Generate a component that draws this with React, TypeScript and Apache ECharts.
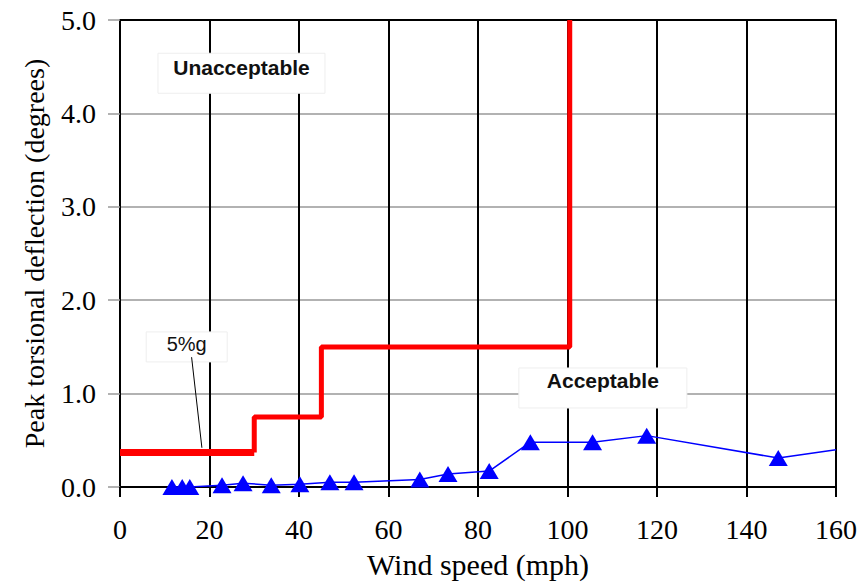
import React, { useEffect, useRef } from "react";
import * as echarts from "echarts";

// 5%g limit: first (thicker) segment, then the stepped remainder
const redBaseX = [0, 30];
const redBaseY = [0.37, 0.37];
const redStepX = [30, 30, 45, 45, 100.5, 100.5];
const redStepY = [0.37, 0.75, 0.75, 1.5, 1.5, 5.0];
const blueX = [11.6, 13.9, 15.6, 22.8, 27.5, 33.8, 40.2, 46.9, 52.3, 67.0, 73.3, 82.5, 91.7, 105.6, 117.7, 147.1, 160];
const blueY = [0, 0, 0, 0.02, 0.04, 0.02, 0.03, 0.05, 0.05, 0.08, 0.14, 0.17, 0.48, 0.48, 0.55, 0.31, 0.4];

const annotations = [
  { text: "Unacceptable", x: 27.15, y: 4.43, w: 167, h: 40, bold: true, size: 21, dy: -6 },
  { text: "Acceptable", x: 107.9, y: 1.06, w: 168, h: 40, bold: true, size: 21, dy: -7 },
  { text: "5%g", x: 14.9, y: 1.5, w: 81, h: 30, bold: false, size: 20, dy: -3 },
];
const leader = [[16.0, 1.39], [18.3, 0.42]];

const serif = "Liberation Serif";
const sans = "Liberation Sans";

const labelRich = { t: { fontFamily: serif, fontSize: 28, color: "#000" } };

export default function App() {
  const ref = useRef<HTMLDivElement>(null);
  useEffect(() => {
    document.body.style.margin = "0";
    const chart = echarts.init(ref.current!, null, { renderer: "svg" });
    chart.setOption({
      animation: false,
      textStyle: { fontFamily: serif, color: "#000" },
      grid: { left: 120, right: 30, top: 20, bottom: 97 },
      xAxis: [
        {
          type: "value",
          min: 0,
          max: 160,
          interval: 20,
          name: "Wind speed (mph)",
          nameLocation: "middle",
          nameGap: 62,
          nameTextStyle: { fontFamily: serif, fontSize: 30, color: "#000" },
          axisLine: { show: true, lineStyle: { color: "#000", width: 2 } },
          axisTick: { show: true, length: 10, lineStyle: { color: "#000", width: 2 } },
          axisLabel: {
            fontFamily: serif,
            fontSize: 28,
            color: "#000",
            margin: 28,
            formatter: (v: number) => `{t|${v}}`,
            rich: labelRich,
          },
          splitLine: { show: true, lineStyle: { color: "#000", width: 2 } },
        },
        {
          type: "value",
          position: "top",
          min: 0,
          max: 160,
          axisLine: { show: true, lineStyle: { color: "#000", width: 2 } },
          axisTick: { show: false },
          axisLabel: { show: false },
          splitLine: { show: false },
        },
      ],
      yAxis: {
        type: "value",
        min: 0,
        max: 5,
        interval: 1,
        name: "Peak torsional deflection (degrees)",
        nameLocation: "middle",
        nameGap: 72,
        nameTextStyle: { fontFamily: serif, fontSize: 28, color: "#000" },
        axisLine: { show: true, lineStyle: { color: "#000", width: 2 } },
        axisTick: { show: true, length: 12, lineStyle: { color: "#999", width: 1.5 } },
        axisLabel: {
          fontFamily: serif,
          fontSize: 28,
          color: "#000",
          margin: 24,
          formatter: (v: number) => `{t|${v.toFixed(1)}}`,
          rich: labelRich,
        },
        splitLine: { show: true, lineStyle: { color: "#999", width: 1.5 } },
      },
      series: [
        {
          type: "line",
          data: redBaseX.map((x, i) => [x, redBaseY[i]]),
          showSymbol: false,
          symbol: "none",
          lineStyle: { color: "#ff0000", width: 7, cap: "butt" },
          z: 3,
        },
        {
          type: "line",
          data: redStepX.map((x, i) => [x, redStepY[i]]),
          showSymbol: false,
          symbol: "none",
          lineStyle: { color: "#ff0000", width: 5 },
          z: 3,
        },
        {
          type: "line",
          data: blueX.map((x, i) =>
            i === blueX.length - 1 ? { value: [x, blueY[i]], symbol: "none" } : [x, blueY[i]]
          ),
          symbol: "triangle",
          symbolSize: [19, 16],
          itemStyle: { color: "#0000ff" },
          lineStyle: { color: "#0000ff", width: 1.5 },
          z: 4,
        },
      ],
    });

    const graphics: any[] = [];
    annotations.forEach((a) => {
      const [cx, cy] = chart.convertToPixel({ xAxisIndex: 0, yAxisIndex: 0 }, [a.x, a.y]);
      graphics.push({
        type: "rect",
        shape: { x: cx - a.w / 2, y: cy - a.h / 2, width: a.w, height: a.h },
        style: { fill: "#fff", stroke: "#eeeeee", lineWidth: 1 },
        z: 10,
      });
      graphics.push({
        type: "text",
        x: cx,
        y: cy + a.dy,
        style: {
          text: a.text,
          fontFamily: sans,
          fontSize: a.size,
          fontWeight: a.bold ? "bold" : "normal",
          fill: "#111",
          align: "center",
          verticalAlign: "middle",
        },
        z: 11,
      });
    });
    const p1 = chart.convertToPixel({ xAxisIndex: 0, yAxisIndex: 0 }, leader[0]);
    const p2 = chart.convertToPixel({ xAxisIndex: 0, yAxisIndex: 0 }, leader[1]);
    graphics.push({
      type: "line",
      shape: { x1: p1[0], y1: p1[1], x2: p2[0], y2: p2[1] },
      style: { stroke: "#000", lineWidth: 1 },
      z: 11,
    });
    chart.setOption({ graphic: graphics });

    return () => chart.dispose();
  }, []);
  return <div ref={ref} style={{ width: 866, height: 584 }} />;
}
